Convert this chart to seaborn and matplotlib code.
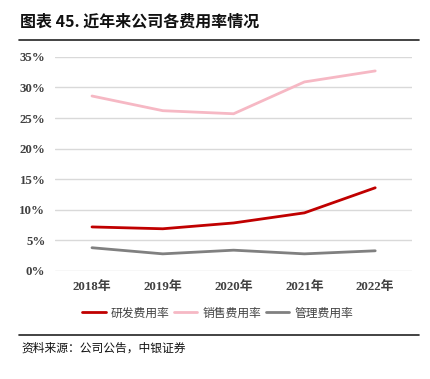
import pandas as pd
import matplotlib.pyplot as plt
import seaborn as sns
from matplotlib.lines import Line2D

# data (%)
years = ['2018年', '2019年', '2020年', '2021年', '2022年']
rd_rate = [7.2, 6.9, 7.85, 9.5, 13.6]
sales_rate = [28.6, 26.2, 25.7, 30.9, 32.7]
admin_rate = [3.8, 2.8, 3.4, 2.8, 3.3]
series_names = ['研发费用率', '销售费用率', '管理费用率']
colors = ['#C00000', '#F6B8C4', '#808080']

df = pd.DataFrame({
    'year': years * 3,
    'value': rd_rate + sales_rate + admin_rate,
    'series': [s for s in series_names for _ in years],
})

sns.set_theme(style='white')
plt.rcParams['font.family'] = ['Liberation Serif', 'Noto Sans CJK SC']

fig = plt.figure(figsize=(4.31, 3.79), dpi=100)
ax = fig.add_axes([0.128, 0.285, 0.828, 0.565])

sns.lineplot(data=df, x='year', y='value', hue='series', palette=colors,
             linewidth=2, ax=ax, legend=False, sort=False)

ax.set_ylim(0, 35)
ax.set_xlim(-0.52, 4.52)
ax.set_yticks(range(0, 36, 5))
ax.set_yticklabels([f'{v}%' for v in range(0, 36, 5)])
ax.grid(axis='y', color='#D9D9D9', linewidth=1)
ax.set_axisbelow(True)
for s in ax.spines.values():
    s.set_visible(False)
ax.set_xlabel('')
ax.set_ylabel('')
ax.tick_params(length=0, labelsize=9.3, labelcolor='#404040', pad=7)
for lab in ax.get_xticklabels() + ax.get_yticklabels():
    lab.set_fontweight('bold')

handles = [Line2D([], [], color=c, linewidth=2) for c in colors]
leg = fig.legend(handles, series_names, loc='center', bbox_to_anchor=(0.505, 0.174),
                 ncol=3, frameon=False, handlelength=2.0, handletextpad=0.45,
                 columnspacing=0.35, prop={'family': ['Noto Sans CJK SC'], 'size': 8.5})
for t in leg.get_texts():
    t.set_color('#404040')

# title and rules
fig.text(0.047, 0.942, '图表 45. 近年来公司各费用率情况', fontsize=11.5, fontweight='bold',
         family=['Noto Sans CJK SC'], va='center', ha='left', color='#111111')
fig.add_artist(Line2D([0.045, 0.972], [0.895, 0.895], color='#222222', linewidth=1.2))
fig.add_artist(Line2D([0.044, 0.972], [0.116, 0.116], color='#222222', linewidth=1.2))
fig.text(0.05, 0.082, '资料来源：公司公告，中银证券', fontsize=8.5, style='italic',
         family=['Noto Sans CJK SC'], va='center', ha='left', color='#111111')

fig.savefig('out.png', dpi=100)
